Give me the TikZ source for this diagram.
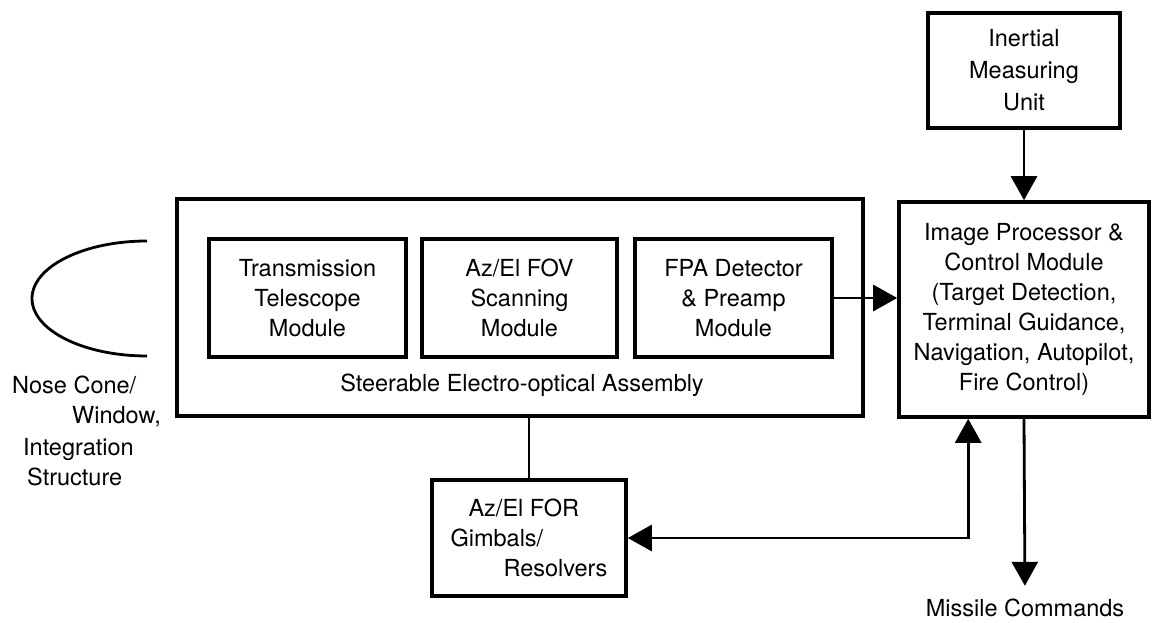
\documentclass[tikz,border=0pt]{standalone}
\usepackage{fontspec}
\setmainfont{TeX Gyre Heros}
\usetikzlibrary{arrows.meta}
\usetikzlibrary{calc}
\tikzset{arrow/.style={-{Triangle[length=24pt,width=26pt]}, line width=2.8pt}}
\tikzset{dblarrow/.style={{Triangle[length=24pt,width=26pt]}-{Triangle[length=24pt,width=26pt]}, line width=2.8pt}}
\tikzset{block/.style={draw, line width=3.6pt, align=center, inner sep=0pt}}

\begin{document}
\begin{tikzpicture}[x=1pt,y=1pt,font=\fontsize{23.5}{30}\selectfont]
        \useasboundingbox (0,0) rectangle (1152,-623);

        % nose cone
        \coordinate (conetop) at (147,-241);
        \draw[line width=2.8pt] (conetop) arc[start angle=90, end angle=270, x radius=115, y radius=57.5];
        \node[anchor=north west, align=left, inner sep=0pt] (nose) at (12,-376)
            {Nose Cone/\\\hspace*{60pt}Window,\\[2pt]\hspace*{11pt}Integration\\\hspace*{15pt}Structure};

        % steerable assembly
        \node[block, minimum width=686pt, minimum height=217pt] (assembly) at (520,-307.5) {};
        \node[block, minimum width=197pt, minimum height=118pt] (telescope) at (307.5,-298)
            {Transmission\\Telescope\\Module};
        \node[block, minimum width=195pt, minimum height=118pt] (scanning) at (519.5,-298)
            {Az/El FOV\\Scanning\\Module};
        \node[block, minimum width=197pt, minimum height=118pt] (fpa) at (733.5,-298)
            {FPA Detector\\\& Preamp\\Module};
        \node[inner sep=0pt] (assemblylabel) at (522,-385) {Steerable Electro-optical Assembly};

        \node[block, minimum width=194pt, minimum height=116pt, align=left] (gimbal) at (529,-538)
            {\hspace*{18pt}Az/El FOR\\Gimbals/\\\hspace*{53pt}Resolvers};

        % processing
        \node[block, minimum width=192pt, minimum height=115pt] (imu) at (1024,-70.5)
            {Inertial\\[2pt]Measuring\\[2pt]Unit};
        \node[block, minimum width=250pt, minimum height=215pt] (ip) at (1024,-309.5)
            {Image Processor \&\\Control Module\\(Target Detection,\\Terminal Guidance,\\Navigation, Autopilot,\\Fire Control)};
        \node[inner sep=0pt] (missile) at (1025,-608) {Missile Commands};

        \draw[arrow] (fpa) -- (ip.west |- fpa);
        \draw[arrow] (imu) -- (ip);
        \draw[line width=2.8pt] (gimbal.north) -- (gimbal.north |- assembly.south);
        \draw[dblarrow] (gimbal.east) -| ($(ip.south west)!0.28!(ip.south east)$);
        \draw[arrow, shorten >=13pt] (ip.south) -- (missile.north);
\end{tikzpicture}
\end{document}
